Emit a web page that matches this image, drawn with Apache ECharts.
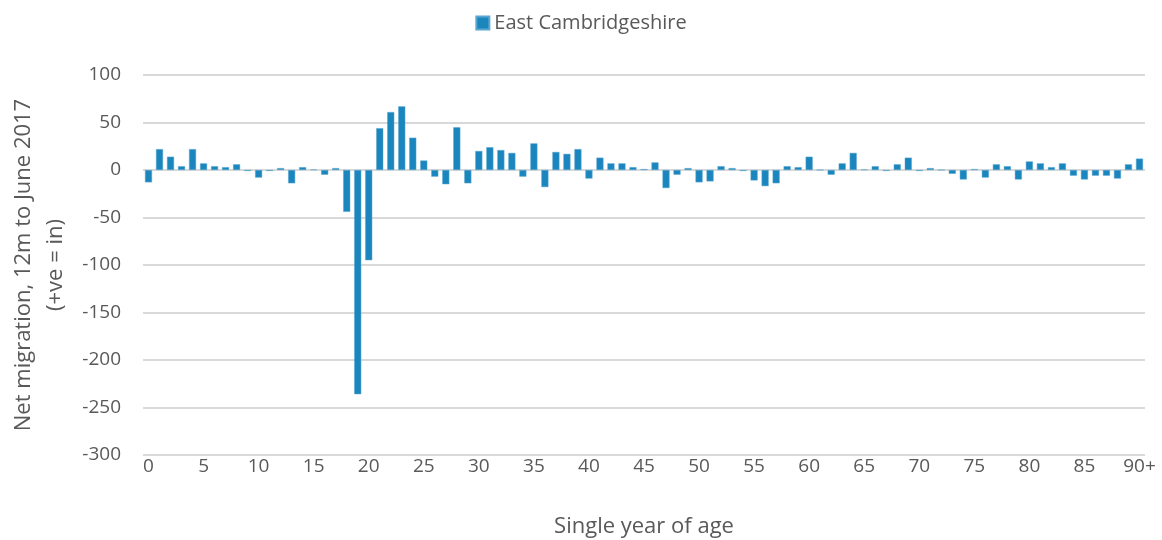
<!DOCTYPE html>
<html>
<head>
<meta charset="utf-8">
<script src="https://cdn.jsdelivr.net/npm/echarts@6/dist/echarts.min.js"></script>
<style>
  html, body { margin: 0; padding: 0; background: #fff; }
  #charts { width: 1162px; height: 540px; }
</style>
</head>
<body>
<div id="charts"></div>
<script>
// ages 0..89 plus 90+
const ages = [];
for (let a = 0; a < 90; a++) ages.push(String(a));
ages.push('90+');

// net migration by single year of age
const netMigration = [
  -13, 22, 14, 4, 22, 7, 4, 3, 6, -1,
  -8, -1, 2, -14, 3, 0.5, -5, 2, -44, -236,
  -95, 44, 61, 67, 34, 10, -7, -15, 45, -14,
  20, 24, 21, 18, -7, 28, -18, 19, 17, 22,
  -9, 13, 7, 7, 3, 1, 8, -19, -5, 2,
  -13, -12, 4, 2, -1, -11, -17, -14, 4, 3,
  14, 0, -5, 7, 18, 0.5, 4, -1, 6, 13,
  -1, 2, 0, -4, -10, 1, -8, 6, 4, -10,
  9, 7, 3, 7, -6, -10, -6, -6, -9, 6,
  12
];

const yTicks = { min: -300, max: 100, interval: 50 };

const textColor = '#595959';
const gridColor = '#D9D9D9';
const fontFamily = 'Open Sans';

const option = {
  animation: false,
  legend: {
    top: 8,
    left: 'center',
    itemWidth: 13,
    itemHeight: 13,
    itemGap: 6,
    icon: 'rect',
    textStyle: { color: textColor, fontSize: 20, fontFamily: fontFamily }
  },
  grid: {
    left: 143,
    right: 17,
    top: 75,
    bottom: 85,
    outerBoundsMode: 'none'
  },
  xAxis: {
    type: 'category',
    data: ages,
    name: 'Single year of age',
    nameLocation: 'middle',
    nameGap: 61,
    nameTextStyle: { color: textColor, fontSize: 22, fontFamily: fontFamily },
    axisTick: { show: false },
    axisLine: { show: false, onZero: false },
    axisLabel: {
      interval: 4,
      color: textColor,
      fontSize: 19,
      fontFamily: fontFamily,
      margin: 2
    }
  },
  yAxis: {
    type: 'value',
    min: yTicks.min,
    max: yTicks.max,
    interval: yTicks.interval,
    name: 'Net migration, 12m to June 2017\n(+ve = in)',
    nameLocation: 'middle',
    nameRotate: 90,
    nameGap: 69,
    nameTextStyle: { color: textColor, fontSize: 22, fontFamily: fontFamily, lineHeight: 32 },
    axisLabel: { color: textColor, fontSize: 19, fontFamily: fontFamily, margin: 22 },
    splitLine: { lineStyle: { color: gridColor, width: 2 } },
    axisLine: { show: false },
    axisTick: { show: false }
  },
  series: [{
    name: 'East Cambridgeshire',
    type: 'bar',
    data: netMigration,
    barCategoryGap: '36%',
    itemStyle: { color: '#1B86BE', borderColor: '#5AA6D0', borderWidth: 0.5 }
  }]
};

const chart = echarts.init(document.getElementById('charts'));
chart.setOption(option);
</script>
</body>
</html>
